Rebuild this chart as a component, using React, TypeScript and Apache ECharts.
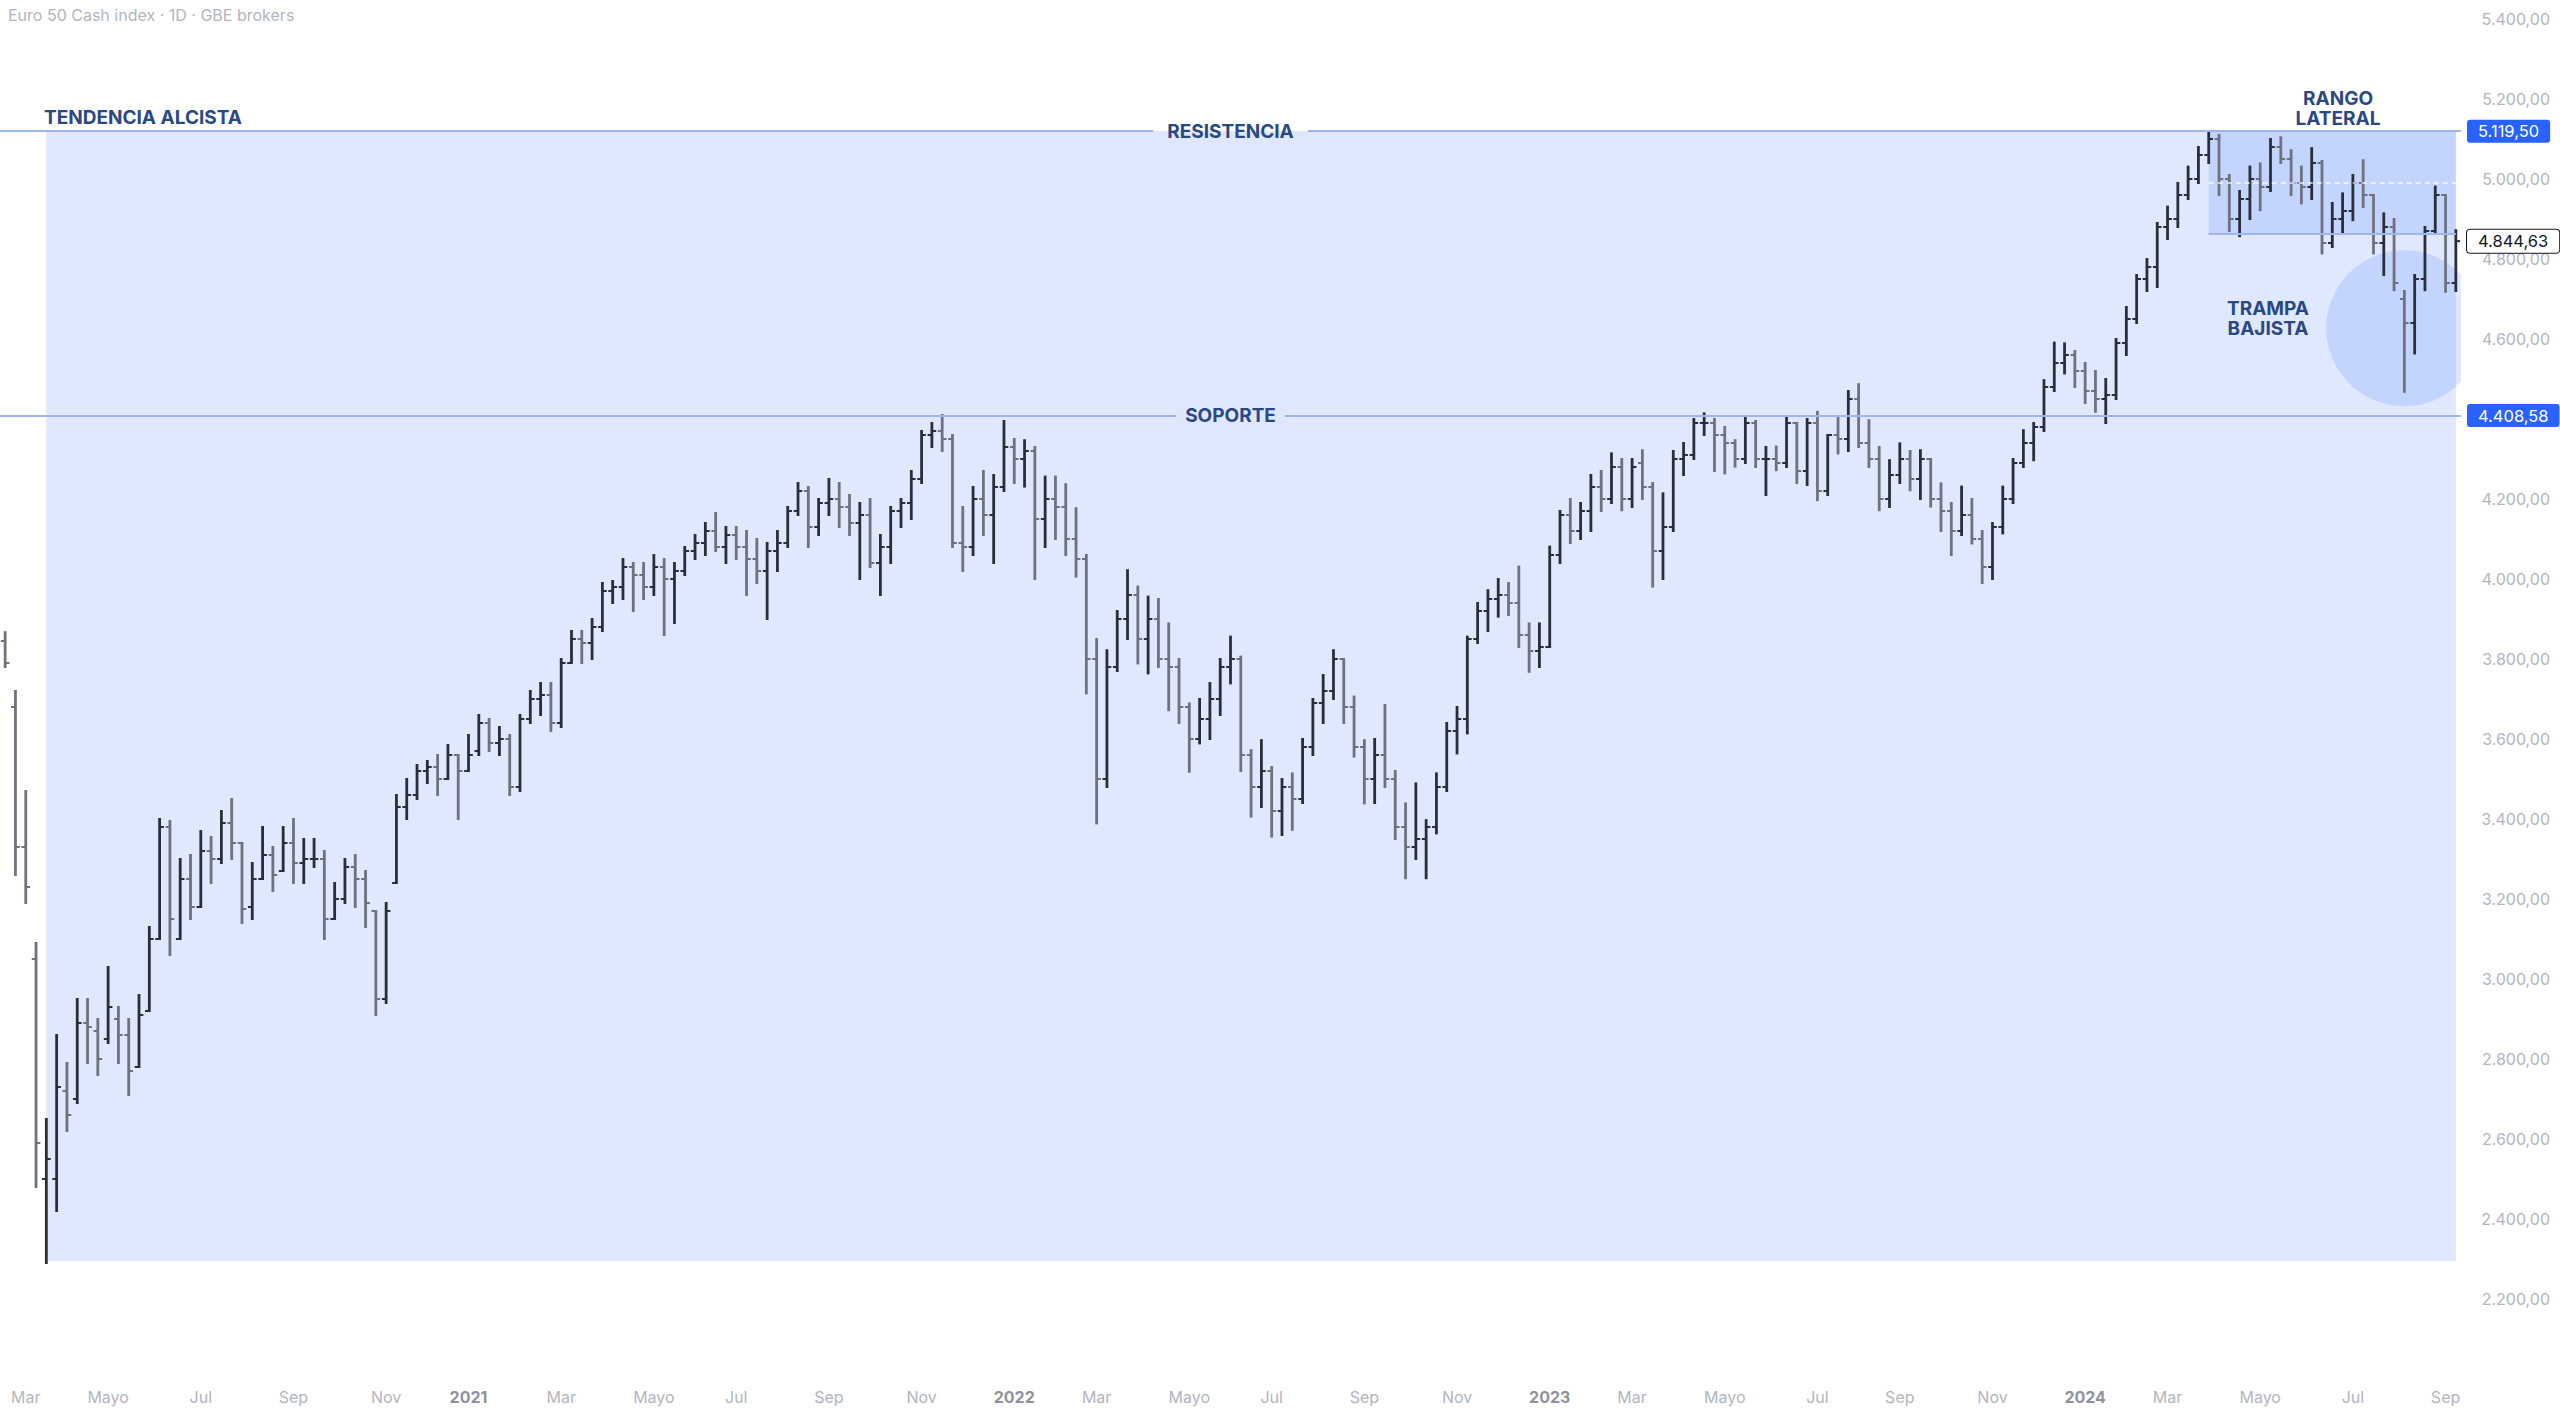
import React, { useEffect, useRef } from 'react';
import * as echarts from 'echarts';

// ---- Weekly OHLC: [open, high, low, close] ----
const ohlc2020 = [
  [3845,3867,3780,3790],[3680,3720,3260,3330],[3330,3470,3190,3230],[3050,3090,2480,2590],[2500,2650,2290,2550],
  [2500,2860,2420,2730],[2720,2790,2620,2660],[2700,2950,2690,2890],[2890,2950,2790,2880],[2870,2900,2760,2800],
  [2850,3030,2840,2930],[2900,2930,2790,2860],[2860,2900,2710,2770],[2780,2960,2780,2910],[2920,3130,2920,3100],
  [3100,3400,3100,3380],[3380,3395,3060,3150],[3100,3300,3100,3250],[3250,3310,3150,3180],[3180,3370,3180,3320],
  [3320,3355,3240,3300],[3300,3420,3290,3390],[3390,3450,3300,3340],[3340,3340,3140,3175],[3180,3290,3150,3250],
  [3250,3380,3250,3310],[3310,3330,3220,3260],[3270,3380,3270,3340],[3340,3400,3240,3290],[3290,3350,3240,3300],
  [3300,3350,3280,3300],[3300,3320,3100,3150],[3150,3240,3150,3200],[3200,3300,3190,3280],[3280,3310,3180,3250],
  [3250,3270,3130,3190],[3170,3170,2910,2950],[2950,3190,2940,3170],[3240,3460,3240,3430],[3430,3500,3400,3460],
  [3460,3535,3450,3520],[3520,3545,3490,3530],[3530,3560,3460,3500],[3500,3585,3500,3560],[3560,3560,3400,3520],
  [3520,3610,3520,3560],
];
const ohlc2021 = [
  [3570,3660,3560,3640],[3640,3650,3570,3590],[3590,3630,3560,3600],[3600,3610,3460,3480],[3480,3660,3470,3650],
  [3650,3720,3640,3700],[3700,3740,3660,3710],[3710,3740,3620,3640],[3640,3800,3630,3790],[3790,3870,3790,3850],
  [3850,3870,3790,3840],[3840,3900,3800,3880],[3880,3990,3870,3970],[3970,3995,3940,3980],[3980,4050,3950,4030],
  [4030,4040,3920,4010],[4010,4040,3950,3980],[3980,4060,3960,4030],[4030,4050,3860,4000],[4000,4040,3890,4020],
  [4020,4080,4010,4070],[4070,4110,4050,4090],[4090,4140,4060,4120],[4120,4165,4070,4080],[4080,4130,4040,4110],
  [4110,4130,4050,4080],[4080,4120,3960,4050],[4050,4100,3990,4020],[4020,4090,3900,4070],[4070,4120,4020,4090],
  [4090,4180,4080,4170],[4170,4240,4160,4220],[4220,4230,4080,4130],[4130,4200,4110,4190],[4190,4250,4160,4200],
  [4200,4240,4130,4180],[4180,4210,4110,4140],[4140,4190,4000,4160],[4160,4200,4030,4040],[4040,4110,3960,4080],
  [4080,4180,4040,4170],[4170,4200,4130,4190],[4190,4270,4150,4250],[4250,4370,4240,4360],[4360,4390,4330,4370],
  [4370,4410,4320,4350],[4350,4360,4080,4090],[4090,4180,4020,4080],[4080,4230,4060,4200],[4200,4270,4110,4160],
  [4160,4260,4040,4230],[4230,4395,4220,4330],
];
const ohlc2022 = [
  [4330,4350,4240,4300],[4300,4347,4231,4320],[4320,4330,4000,4150],[4150,4256,4080,4200],[4200,4256,4100,4180],
  [4180,4237,4060,4100],[4100,4177,4006,4050],[4050,4060,3714,3800],[3800,3850,3389,3500],[3500,3822,3480,3780],
  [3780,3920,3770,3900],[3900,4022,3850,3960],[3960,3981,3789,3850],[3850,3956,3764,3900],[3900,3950,3780,3800],
  [3800,3889,3672,3780],[3780,3800,3640,3680],[3680,3689,3518,3600],[3600,3700,3589,3650],[3650,3740,3600,3700],
  [3700,3800,3660,3780],[3780,3856,3739,3800],[3800,3806,3520,3560],[3560,3572,3406,3480],[3480,3597,3430,3520],
  [3520,3530,3356,3420],[3420,3500,3360,3480],[3480,3514,3373,3450],[3450,3600,3440,3580],[3580,3700,3560,3690],
  [3690,3760,3640,3720],[3720,3822,3700,3800],[3800,3800,3640,3680],[3680,3706,3556,3580],[3580,3597,3439,3500],
  [3500,3600,3440,3560],[3560,3685,3480,3500],[3500,3520,3350,3380],[3380,3439,3252,3330],[3330,3489,3300,3350],
  [3350,3397,3252,3380],[3380,3514,3364,3480],[3480,3640,3470,3620],[3620,3680,3564,3650],[3650,3856,3614,3850],
  [3850,3940,3840,3920],[3920,3972,3870,3950],[3950,4000,3906,3960],[3960,3990,3910,3940],[3940,4031,3830,3860],
  [3860,3889,3768,3820],[3820,3889,3780,3830],
];
const ohlc2023 = [
  [3830,4081,3830,4060],[4060,4170,4040,4160],[4160,4200,4090,4120],[4120,4190,4100,4170],[4170,4260,4120,4230],
  [4230,4270,4170,4200],[4200,4314,4190,4280],[4280,4300,4172,4200],[4200,4300,4180,4280],[4290,4322,4200,4230],
  [4230,4240,3981,4070],[4070,4214,4000,4130],[4130,4320,4120,4300],[4300,4340,4260,4310],[4310,4400,4300,4390],
  [4390,4414,4360,4390],[4390,4400,4270,4360],[4360,4380,4264,4340],[4340,4347,4281,4300],[4300,4407,4290,4390],
  [4390,4395,4280,4300],[4300,4330,4210,4300],[4300,4331,4272,4290],[4290,4406,4280,4390],[4390,4390,4240,4270],
  [4270,4400,4235,4390],[4390,4418,4197,4220],[4220,4360,4210,4360],[4360,4406,4314,4350],[4350,4470,4320,4450],
  [4450,4487,4330,4340],[4340,4397,4280,4300],[4300,4330,4172,4200],[4200,4297,4180,4260],[4260,4339,4240,4300],
  [4300,4320,4222,4250],[4250,4322,4200,4300],[4300,4300,4181,4200],[4200,4239,4120,4170],[4170,4190,4060,4120],
  [4120,4231,4110,4160],[4160,4200,4089,4100],[4100,4120,3990,4030],[4030,4140,4000,4130],[4130,4231,4114,4200],
  [4200,4300,4190,4290],[4290,4372,4280,4340],[4340,4390,4297,4380],[4380,4497,4370,4480],[4480,4591,4470,4540],
  [4540,4589,4514,4560],[4560,4570,4480,4520],
];
const ohlc2024 = [
  [4520,4540,4440,4470],[4470,4520,4418,4450],[4450,4500,4390,4460],[4460,4600,4450,4590],[4590,4680,4560,4650],
  [4650,4760,4640,4750],[4750,4800,4720,4780],[4780,4890,4730,4880],[4880,4931,4850,4900],[4900,4990,4880,4960],
  [4960,5031,4950,5000],[5000,5080,4990,5060],[5060,5119.5,5040,5100],[5100,5110,4960,5000],[5000,5010,4870,4900],
  [4900,4970,4857,4950],[4950,5031,4900,5000],[5000,5039,4922,4980],[4980,5100,4970,5080],[5080,5104,5040,5050],
  [5050,5072,4960,4990],[4990,5031,4939,4980],[4980,5077,4950,5040],[5040,5045,4814,4840],[4840,4940,4830,4900],
  [4900,4964,4864,4920],[4920,5010,4897,4990],[4990,5047,4930,4960],[4960,4960,4814,4840],[4840,4914,4760,4880],
  [4880,4900,4722,4740],[4700,4720,4468,4640],[4640,4760,4564,4750],[4750,4880,4722,4870],[4870,4981,4864,4960],
  [4960,4960,4718,4740],[4740,4872,4720,4844.63],
];

// ---- Levels and annotation anchors ----
const RESISTANCE = 5119.5;
const SUPPORT = 4408.58;
const LAST_PRICE = 4844.63;
const TREND_LOW = 2295;
const RANGE_LOW = 4862;
const RANGE_MID = (RESISTANCE + RANGE_LOW) / 2;
const CIRCLE_VALUE = 4627;
const CIRCLE_RADIUS_VALUE = 195;
const TREND_START_WEEK = 4;
const RANGE_START_WEEK = 214;
const CIRCLE_WEEK = 233;

const Y_MIN = 2000;
const Y_MAX = 5400;
const Y_STEP = 200;
const Y_HIDDEN_TICKS = [2000, 4400]; // 4.400,00 sits under the support price tag

const FIRST_MONDAY = Date.UTC(2020, 1, 17);
const MONTH_NAMES: Record<number, string> = { 2: 'Mar', 4: 'Mayo', 6: 'Jul', 8: 'Sep', 10: 'Nov' };

const TITLE = 'Euro 50 Cash index · 1D · GBE brokers';
const FONT = 'Inter, "Noto Sans", sans-serif';
const NAVY = '#2a4884';
const LEVEL_COLOR = '#9fb5f2';
const AREA_COLOR = 'rgba(41,98,255,0.15)';
const AREA_ON_WHITE = '#dfe7ff';
const UP = '#2a2e39';
const DOWN = '#6f727d';
const AXIS_TEXT = '#b2b5be';

const bars = [...ohlc2020, ...ohlc2021, ...ohlc2022, ...ohlc2023, ...ohlc2024];

const pad = (n: number) => (n < 10 ? '0' + n : '' + n);
const weeks = bars.map((_, i) => {
  const d = new Date(FIRST_MONDAY + i * 7 * 86400000);
  return `${d.getUTCFullYear()}-${pad(d.getUTCMonth() + 1)}-${pad(d.getUTCDate())}`;
});

function labelFor(value: string): string {
  const monday = new Date(value + 'T00:00:00Z');
  let month = -1;
  let year = monday.getUTCFullYear();
  if (monday.getUTCDate() <= 3) {
    month = monday.getUTCMonth();
  } else {
    for (let k = 1; k <= 4; k++) {
      const d = new Date(monday.getTime() + k * 86400000);
      if (d.getUTCDate() === 1) {
        month = d.getUTCMonth();
        year = d.getUTCFullYear();
        break;
      }
    }
  }
  if (month === 0) return `{y|${year}}`;
  return MONTH_NAMES[month] || '';
}

function fmtEs(v: number): string {
  const [i, d] = v.toFixed(2).split('.');
  return i.replace(/\B(?=(\d{3})+$)/g, '.') + ',' + d;
}

function buildOption(): any {
  const barData = bars.map((b, i) => [i, b[0], b[1], b[2], b[3]]);

  const tag = (v: number, bg: string, fg: string, border?: string) => ({
    show: true,
    position: 'end',
    distance: 6,
    formatter: fmtEs(v),
    backgroundColor: bg,
    color: fg,
    fontFamily: FONT,
    fontSize: 16.5,
    lineHeight: 17,
    padding: [3, 11, 3, 11],
    borderRadius: 3,
    borderColor: border || bg,
    borderWidth: border ? 1 : 0,
  });

  const levelText = (text: string, bg: any, px: number) => ({
    show: true,
    position: 'insideMiddle',
    formatter: text,
    color: NAVY,
    fontFamily: FONT,
    fontWeight: 'bold',
    fontSize: 19,
    lineHeight: 20,
    backgroundColor: bg,
    padding: [2, px, 2, px],
  });

  const splitBg = new echarts.graphic.LinearGradient(0, 0, 0, 1, [
    { offset: 0, color: '#ffffff' },
    { offset: 0.5, color: '#ffffff' },
    { offset: 0.5, color: AREA_ON_WHITE },
    { offset: 1, color: AREA_ON_WHITE },
  ]);

  const hidden = { color: 'rgba(0,0,0,0)', width: 1, opacity: 1 };
  const levelLine = { color: LEVEL_COLOR, width: 2, type: 'solid' };
  const lastWeek = weeks[weeks.length - 1];

  return {
    animation: false,
    backgroundColor: '#ffffff',
    grid: { left: 0, right: 99, top: 19, bottom: 34, containLabel: false, outerBoundsMode: 'none' },
    xAxis: {
      type: 'category',
      data: weeks,
      boundaryGap: true,
      axisLine: { show: false },
      axisTick: { show: false },
      splitLine: { show: false },
      axisLabel: {
        interval: (_: number, value: string) => labelFor(value) !== '',
        formatter: (value: string) => labelFor(value),
        margin: 10,
        color: AXIS_TEXT,
        fontFamily: FONT,
        fontSize: 16,
        rich: { y: { fontWeight: 'bold', color: '#8f929b', fontFamily: FONT, fontSize: 16 } },
      },
    },
    yAxis: {
      type: 'value',
      position: 'right',
      min: Y_MIN,
      max: Y_MAX,
      interval: Y_STEP,
      axisLine: { show: false },
      axisTick: { show: false },
      splitLine: { show: false },
      axisLabel: {
        showMinLabel: false,
        margin: 89,
        align: 'right',
        color: AXIS_TEXT,
        fontFamily: FONT,
        fontSize: 16,
        formatter: (v: number) => (Y_HIDDEN_TICKS.indexOf(v) >= 0 ? '' : fmtEs(v)),
      },
    },
    series: [
      {
        type: 'custom',
        name: 'zonas',
        z: 1,
        silent: true,
        clip: true,
        data: [[CIRCLE_WEEK, CIRCLE_VALUE, CIRCLE_RADIUS_VALUE]],
        encode: { x: 0, y: 1 },
        renderItem: (_params: any, api: any) => {
          const c = api.coord([api.value(0), api.value(1)]);
          const top = api.coord([api.value(0), api.value(1) + api.value(2)]);
          const r = Math.abs(c[1] - top[1]);
          return { type: 'circle', shape: { cx: c[0], cy: c[1], r }, style: { fill: AREA_COLOR } };
        },
        markArea: {
          silent: true,
          z: 1,
          label: { show: false },
          data: [
            [
              { coord: [weeks[TREND_START_WEEK], TREND_LOW], itemStyle: { color: AREA_COLOR } },
              { coord: [lastWeek, RESISTANCE] },
            ],
            [
              { coord: [weeks[RANGE_START_WEEK], RANGE_LOW], itemStyle: { color: AREA_COLOR } },
              { coord: [lastWeek, RESISTANCE] },
            ],
          ],
        },
      },
      {
        type: 'custom',
        name: 'Euro 50',
        z: 3,
        silent: true,
        data: barData,
        encode: { x: 0, y: [1, 2, 3, 4] },
        renderItem: (_params: any, api: any) => {
          const i = api.value(0);
          const o = api.value(1);
          const h = api.value(2);
          const l = api.value(3);
          const c = api.value(4);
          const pH = api.coord([i, h]);
          const pL = api.coord([i, l]);
          const pO = api.coord([i, o]);
          const pC = api.coord([i, c]);
          const bw = api.size([1, 0])[0];
          const t = Math.max(2, bw * 0.42);
          const color = c >= o ? UP : DOWN;
          const vStyle = { stroke: color, lineWidth: 2.8 };
          const tStyle = { stroke: color, lineWidth: 2 };
          return {
            type: 'group',
            children: [
              { type: 'line', shape: { x1: pH[0], y1: pH[1] - 1, x2: pL[0], y2: pL[1] + 1 }, style: vStyle },
              { type: 'line', shape: { x1: pO[0] - t, y1: pO[1], x2: pO[0], y2: pO[1] }, style: tStyle },
              { type: 'line', shape: { x1: pC[0], y1: pC[1], x2: pC[0] + t, y2: pC[1] }, style: tStyle },
            ],
          };
        },
        markLine: {
          silent: true,
          symbol: ['none', 'none'],
          label: { show: false },
          data: [
            { yAxis: RESISTANCE, lineStyle: levelLine, label: levelText('RESISTENCIA', splitBg, 14) },
            { yAxis: SUPPORT, lineStyle: levelLine, label: levelText('SOPORTE', AREA_ON_WHITE, 9) },
            [
              { coord: [weeks[RANGE_START_WEEK], RANGE_LOW], lineStyle: { color: LEVEL_COLOR, width: 2, type: 'solid' }, label: { show: false } },
              { coord: [lastWeek, RANGE_LOW] },
            ],
            [
              { coord: [weeks[RANGE_START_WEEK], RANGE_MID], lineStyle: { color: 'rgba(255,255,255,0.85)', width: 1.5, type: [5, 4] }, label: { show: false } },
              { coord: [lastWeek, RANGE_MID] },
            ],
            { yAxis: RESISTANCE, lineStyle: hidden, label: tag(RESISTANCE, '#2962ff', '#ffffff') },
            { yAxis: SUPPORT, lineStyle: hidden, label: tag(SUPPORT, '#2962ff', '#ffffff') },
            { yAxis: LAST_PRICE, lineStyle: hidden, label: tag(LAST_PRICE, '#ffffff', '#131722', '#131722') },
          ],
        },
      },
    ],
    graphic: [
      {
        type: 'text', x: 8, y: 15, z: 10, silent: true,
        style: { text: TITLE, fill: AXIS_TEXT, font: `16px ${FONT}`, verticalAlign: 'middle' },
      },
      {
        type: 'text', x: 44, y: 117, z: 10, silent: true,
        style: { text: 'TENDENCIA ALCISTA', fill: NAVY, font: `bold 19px ${FONT}`, verticalAlign: 'middle' },
      },
      {
        type: 'text', x: 2338, y: 108, z: 10, silent: true,
        style: { text: 'RANGO\nLATERAL', fill: NAVY, font: `bold 19px ${FONT}`, lineHeight: 20, align: 'center', verticalAlign: 'middle' },
      },
      {
        type: 'text', x: 2268, y: 318, z: 10, silent: true,
        style: { text: 'TRAMPA\nBAJISTA', fill: NAVY, font: `bold 19px ${FONT}`, lineHeight: 20, align: 'center', verticalAlign: 'middle' },
      },
    ],
  };
}

export default function App() {
  const ref = useRef<HTMLDivElement>(null);
  useEffect(() => {
    document.body.style.margin = '0';
    document.body.style.overflow = 'hidden';
    if (!ref.current) return;
    const chart = echarts.init(ref.current, undefined, { renderer: 'svg' });
    chart.setOption(buildOption());
    return () => chart.dispose();
  }, []);
  return <div ref={ref} style={{ width: 2560, height: 1413 }} />;
}
